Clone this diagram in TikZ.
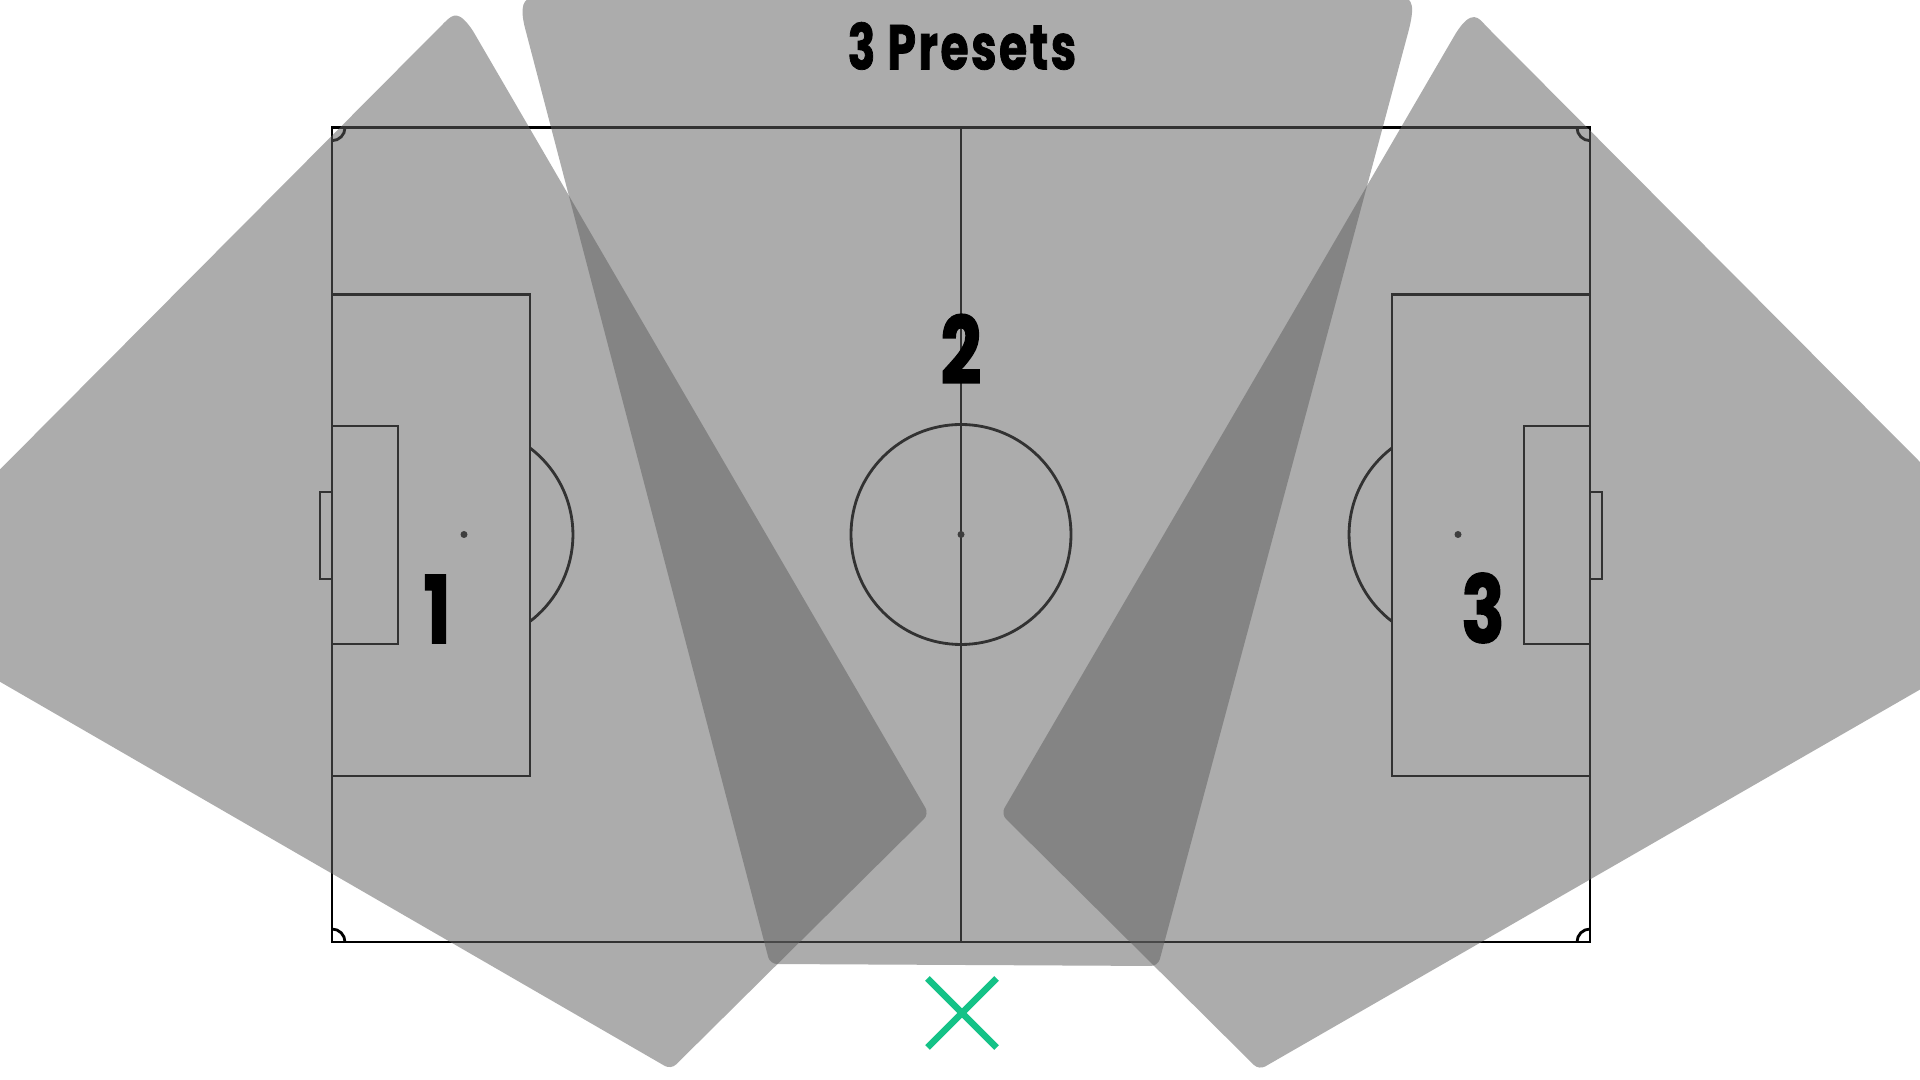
\documentclass[tikz,border=0pt]{standalone}
\usepackage{fontspec}
\newfontfamily\presetfont[FakeBold=1.2,FakeStretch=0.72,LetterSpace=4]{Poppins}
\newfontfamily\digitfont[FakeBold=1.8,FakeStretch=0.76]{Poppins}
\definecolor{zonegray}{HTML}{606060}
\definecolor{markgreen}{HTML}{14C287}
\begin{document}
\begin{tikzpicture}[
    x=0.01cm, y=-0.01cm,
    % Pitch and camera zones
    pitchline/.style={draw=black, line width=0.8pt},
    zone/.style={fill=zonegray, fill opacity=0.52},
    % Labels
    zonelabel/.style={font=\digitfont\bfseries\fontsize{26.5}{26.5}\selectfont, text=black, inner sep=0pt},
    titlelabel/.style={font=\presetfont\bfseries\fontsize{18}{18}\selectfont, text=black, inner sep=0pt},
    marker/.style={draw=markgreen, line width=1.9pt}
    ]

    \clip (0,0) rectangle (1920,1080);
    \fill[white] (0,0) rectangle (1920,1080);

    % Pitch outline and halfway line
    \draw[pitchline] (332,127.7) rectangle (1590,942);
    \draw[pitchline] (961,127.7) -- (961,942);
    \draw[pitchline] (961,534.5) circle[radius=110];
    \fill[black!90] (961,534.5) circle[radius=3.5];

    % Left end
    \draw[pitchline] (332,294.5) rectangle (530,776);
    \draw[pitchline] (332,426) rectangle (398,644);
    \draw[pitchline] (332,492) rectangle (320,579);
    \fill[black!90] (464,534.5) circle[radius=3.5];
    \draw[pitchline] (530,448) arc[start angle=-52.7, end angle=52.7, radius=109];

    % Right end
    \draw[pitchline] (1590,294.5) rectangle (1392,776);
    \draw[pitchline] (1590,426) rectangle (1524,644);
    \draw[pitchline] (1590,492) rectangle (1602,579);
    \fill[black!90] (1458,534.5) circle[radius=3.5];
    \draw[pitchline] (1392,448) arc[start angle=232.7, end angle=127.3, radius=109];

    % Corner arcs
    \draw[pitchline] (345,127.7) arc[start angle=0, end angle=90, radius=13];
    \draw[pitchline] (345,942) arc[start angle=0, end angle=-90, radius=13];
    \draw[pitchline] (1577,127.7) arc[start angle=180, end angle=90, radius=13];
    \draw[pitchline] (1577,942) arc[start angle=180, end angle=270, radius=13];

    % Zone 1, left
    \fill[zone] (-100,570) -- (445,22) .. controls (453,14) and (459,10) .. (473,31)
        [rounded corners=2pt] -- (929,814) -- (671,1069.5) [sharp corners] -- (-100,624) -- cycle;

    % Zone 2, centre
    \fill[zone] (536,-20) -- (536,-3) .. controls (522,-3) and (520,8) .. (525,28)
        [rounded corners=2pt] -- (770,964) -- (1158,966) [sharp corners] -- (1408,33) .. controls (1414.7,8) and (1414,-3) .. (1400,-3)
        -- (1400,-20) -- cycle;

    % Zone 3, right
    \fill[zone] (2020,562.5) -- (1486,26) .. controls (1479,18) and (1472,8) .. (1456,33)
        [rounded corners=2pt] -- (1001,814) -- (1259,1070) [sharp corners] -- (2020,632) -- cycle;

    % Labels
    \node[titlelabel] (title) at (962,46) {3 Presets};
    \node[zonelabel] (zone1) at (437,609) {1};
    \node[zonelabel] (zone2) at (961,349) {2};
    \node[zonelabel] (zone3) at (1483,608) {3};

    % Goal camera marker
    \draw[marker] (927.5,978.5) -- (996.5,1047.5);
    \draw[marker] (996.5,978.5) -- (927.5,1047.5);

\end{tikzpicture}
\end{document}
